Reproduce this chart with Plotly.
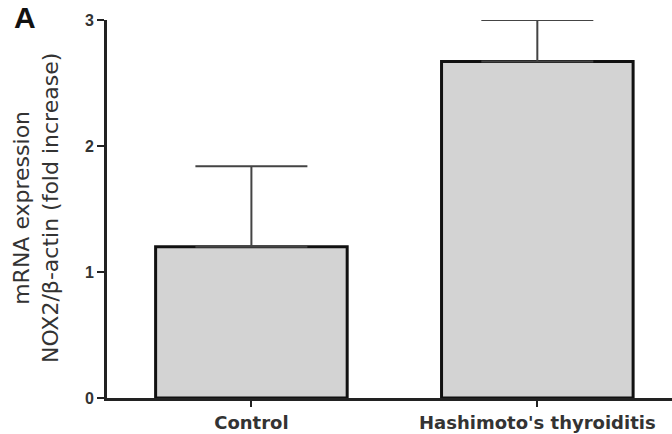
import plotly.graph_objects as go

categories = ["Control", "Hashimoto's thyroiditis"]
means = [1.20, 2.67]
errors_up = [0.64, 0.33]
y_ticks = [0, 1, 2, 3]

W, H = 672, 434
L, R, T, B = 107, 0, 20, 36
pw, ph = W - L - R, H - T - B

fig = go.Figure()
fig.add_trace(go.Bar(
    x=[0, 1],
    y=means,
    width=0.67,
    marker=dict(color="#d3d3d3", line=dict(color="#111111", width=3)),
    error_y=dict(type="data", symmetric=False, array=errors_up,
                 arrayminus=[0, 0], color="#444444", thickness=2, width=56),
    showlegend=False,
))

fig.update_layout(
    width=W, height=H,
    margin=dict(l=L, r=R, t=T, b=B),
    paper_bgcolor="white", plot_bgcolor="white",
    font=dict(family="Liberation Sans, Arial, sans-serif", color="#222222"),
)
fig.update_xaxes(
    range=[-0.505, 1.471],
    tickvals=[0, 1], ticktext=categories,
    ticks="outside", ticklen=6, tickwidth=2, tickcolor="#222222",
    showline=True, linecolor="#222222", linewidth=3,
    showgrid=False, zeroline=False,
    tickfont=dict(size=18, family="DejaVu Sans", weight="bold", color="#333333"),
)
fig.update_yaxes(
    range=[0, 3],
    tickvals=y_ticks, ticktext=[str(v) for v in y_ticks],
    ticks="outside", ticklen=7, tickwidth=2, tickcolor="#222222",
    showline=True, linecolor="#222222", linewidth=3,
    showgrid=False, zeroline=False,
    tickfont=dict(size=16, family="Liberation Sans, Arial, sans-serif", weight="bold", color="#333333"),
)
fig.add_annotation(
    text="mRNA expression<br>NOX2/β-actin (fold increase)",
    textangle=-90, showarrow=False,
    xref="paper", yref="paper",
    x=(36 - L) / pw, y=(398 - 208) / ph,
    xanchor="center", yanchor="middle",
    font=dict(size=22, family="DejaVu Sans", color="#333333"),
)
fig.add_annotation(
    text="<b>A</b>", showarrow=False,
    xref="paper", yref="paper",
    x=(12 - L) / pw, y=1 + (T + 1) / ph,
    xanchor="left", yanchor="top",
    font=dict(size=30, family="Liberation Sans, Arial, sans-serif", color="#111111"),
)

fig.write_html(
    "out.html",
    config={"displayModeBar": False},
    post_script="document.body.style.margin='0px';document.body.style.padding='0px';",
)
